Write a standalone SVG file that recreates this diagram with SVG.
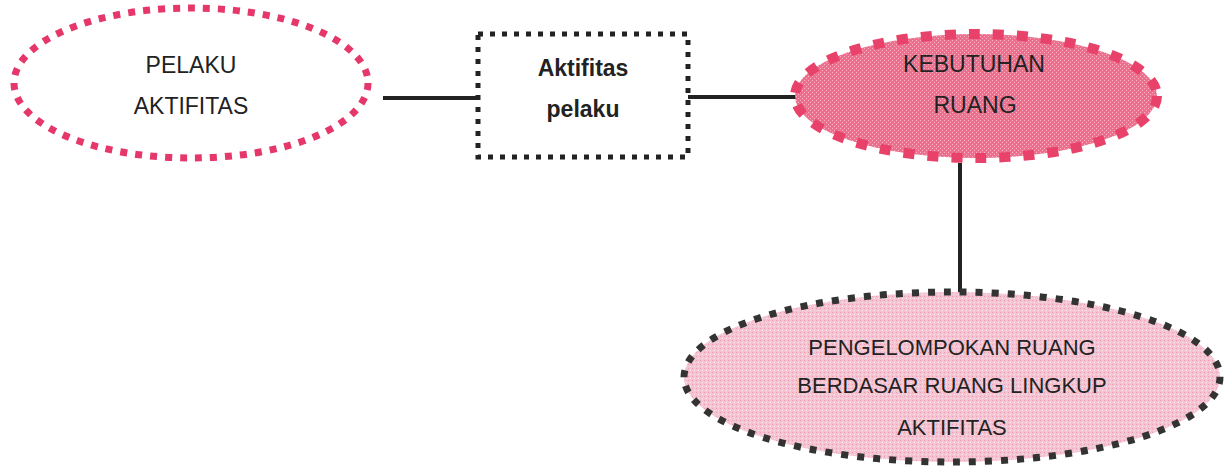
<svg xmlns="http://www.w3.org/2000/svg" width="1228" height="466" viewBox="0 0 1228 466">
<style>
.t{font-family:"Liberation Sans",Arial,sans-serif;font-size:23px;fill:#222;text-anchor:middle}
.b{font-weight:bold}
.conn{stroke:#222;stroke-width:4;fill:none}
</style>
<defs>
<pattern id="p1" width="4" height="4" patternUnits="userSpaceOnUse">
<rect width="4" height="4" fill="#ec6f8e"/>
<rect x="0" y="0" width="1" height="1" fill="#f6b4c4"/>
<rect x="2" y="2" width="1" height="1" fill="#f6b4c4"/>
</pattern>
<pattern id="p2" width="4" height="4" patternUnits="userSpaceOnUse">
<rect width="4" height="4" fill="#f4c4d2"/>
<rect x="0" y="0" width="1" height="1" fill="#ec9db3"/>
<rect x="2" y="2" width="1" height="1" fill="#fce8ee"/>
</pattern>
</defs>
<g id="connectors">
<line class="conn" x1="383" y1="98" x2="478" y2="98"/>
<line class="conn" x1="688" y1="97" x2="798" y2="97"/>
<line class="conn" x1="960" y1="163" x2="960" y2="293"/>
</g>
<g id="pelaku">
<ellipse cx="191" cy="83" rx="177" ry="75" fill="#fff" stroke="#e5376a" stroke-width="7" stroke-dasharray="7 8"/>
<text class="t" x="191" y="73">PELAKU</text>
<text class="t" x="191" y="114">AKTIFITAS</text>
</g>
<g id="aktifitas">
<rect x="478" y="34" width="210" height="123" fill="#fff" stroke="#222" stroke-width="5" stroke-dasharray="5 7"/>
<text class="t b" x="583" y="76">Aktifitas</text>
<text class="t b" x="583" y="117">pelaku</text>
</g>
<g id="kebutuhan">
<ellipse cx="976" cy="96" rx="181" ry="62" fill="url(#p1)" stroke="#e8426a" stroke-width="10" stroke-dasharray="11 13"/>
<text class="t" x="974" y="72">KEBUTUHAN</text>
<text class="t" x="975" y="113">RUANG</text>
</g>
<g id="pengelompokan">
<ellipse cx="952" cy="377" rx="268" ry="85" fill="url(#p2)" stroke="#333" stroke-width="7" stroke-dasharray="7 9"/>
<text class="t" x="952" y="355" style="font-size:22px">PENGELOMPOKAN RUANG</text>
<text class="t" x="952" y="393" style="font-size:22px">BERDASAR RUANG LINGKUP</text>
<text class="t" x="952" y="435" style="font-size:22px">AKTIFITAS</text>
</g>
</svg>
